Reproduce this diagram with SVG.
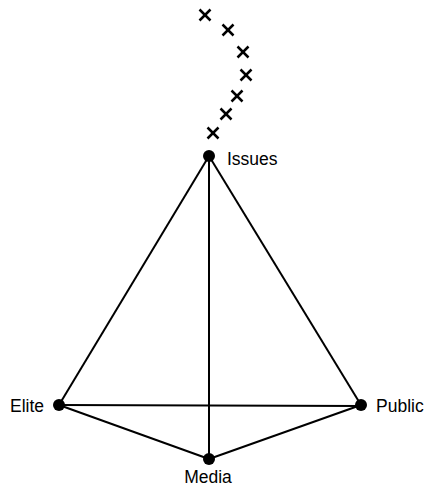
<svg xmlns="http://www.w3.org/2000/svg" width="426" height="486" viewBox="0 0 426 486">
<style>
.e{stroke:#000;stroke-width:2;fill:none}
.x{stroke:#000;stroke-width:2.5;stroke-linecap:butt}
.n{fill:#000}
.t{font-family:"Liberation Sans",Arial,sans-serif;font-size:17.5px;fill:#000}
</style>
<defs>
<g id="cross"><line class="x" x1="-5.5" y1="-5.5" x2="5.5" y2="5.5"/><line class="x" x1="-5.5" y1="5.5" x2="5.5" y2="-5.5"/></g>
</defs>
<rect width="426" height="486" fill="#fff"/>
<g id="marks">
<use href="#cross" x="205" y="15"/>
<use href="#cross" x="228" y="30"/>
<use href="#cross" x="243" y="52"/>
<use href="#cross" x="246" y="75"/>
<use href="#cross" x="237" y="96"/>
<use href="#cross" x="226" y="114"/>
<use href="#cross" x="213" y="133"/>
</g>
<g id="connectors">
<line class="e" x1="209" y1="156" x2="59" y2="405"/>
<line class="e" x1="209" y1="156" x2="361" y2="405"/>
<line class="e" x1="209" y1="156" x2="209" y2="459"/>
<line class="e" x1="59" y1="405" x2="361" y2="406"/>
<line class="e" x1="59" y1="405" x2="209" y2="459"/>
<line class="e" x1="361" y1="405" x2="209" y2="459"/>
</g>
<g id="issues"><circle class="n" cx="209" cy="156" r="6"/><text class="t" x="227" y="165">Issues</text></g>
<g id="elite"><circle class="n" cx="59" cy="405" r="6"/><text class="t" x="44" y="412" text-anchor="end">Elite</text></g>
<g id="public"><circle class="n" cx="361" cy="405" r="6"/><text class="t" x="376" y="412">Public</text></g>
<g id="media"><circle class="n" cx="209" cy="459" r="6"/><text class="t" x="208" y="483" text-anchor="middle">Media</text></g>
</svg>
